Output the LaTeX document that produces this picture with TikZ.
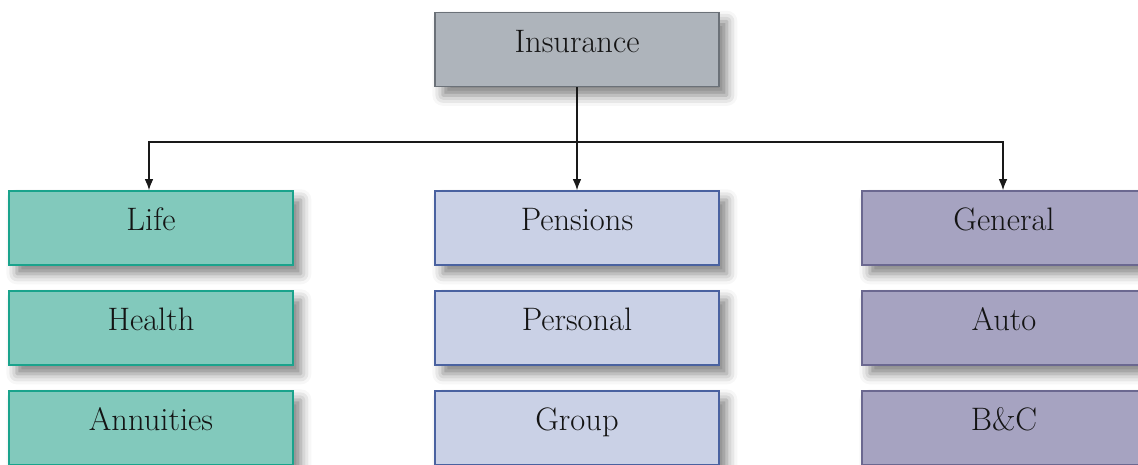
\documentclass[tikz,border=0pt]{standalone}
\usetikzlibrary{positioning, shadows.blur, arrows.meta}
\definecolor{insfill}{HTML}{AEB4BB}
\definecolor{insdraw}{HTML}{6B7178}
\definecolor{lifefill}{HTML}{82C9BC}
\definecolor{lifedraw}{HTML}{1AA38C}
\definecolor{penfill}{HTML}{CAD1E6}
\definecolor{pendraw}{HTML}{4A62A0}
\definecolor{genfill}{HTML}{A6A3C1}
\definecolor{gendraw}{HTML}{6B6890}

\begin{document}
\begin{tikzpicture}[>={Latex[length=2.2mm,width=1.7mm]}, x=0.02cm, y=-0.02cm,
  box/.style={rectangle, line width=0.9pt, minimum width=5.68cm, minimum height=1.48cm,
    text height=0.35cm, text depth=0.25cm, inner sep=0pt,
    font=\fontsize{18.5}{21}\selectfont, text=black!92,
    blur shadow={shadow xshift=4.5pt, shadow yshift=-5pt, shadow blur radius=6pt, shadow opacity=50}},
  insbox/.style={box, fill=insfill, draw=insdraw},
  lifebox/.style={box, fill=lifefill, draw=lifedraw},
  penbox/.style={box, fill=penfill, draw=pendraw},
  genbox/.style={box, fill=genfill, draw=gendraw},
  link/.style={line width=0.7pt, black!90}]
\useasboundingbox (0,0) rectangle (1138,464);

\node[insbox] (ins) at (577,49.5) {Insurance};

\node[lifebox] (life) at (151,228) {Life};
\node[lifebox, below=0.49cm of life] (health) {Health};
\node[lifebox, below=0.49cm of health] (annuities) {Annuities};

\node[penbox] (pensions) at (577,228) {Pensions};
\node[penbox, below=0.49cm of pensions] (personal) {Personal};
\node[penbox, below=0.49cm of personal] (group) {Group};

\node[genbox] (general) at (1004,228) {General};
\node[genbox, below=0.49cm of general] (auto) {Auto};
\node[genbox, below=0.49cm of auto] (bc) {B\&C};

\coordinate (split) at (577,142);
\draw[link] (ins.south) -- (split);
\draw[link, ->] (split) -| ([xshift=-2*0.02cm]life.north);
\draw[link, ->] (split) -- (pensions.north);
\draw[link, ->] (split) -| ([xshift=-1*0.02cm]general.north);
\end{tikzpicture}
\end{document}
